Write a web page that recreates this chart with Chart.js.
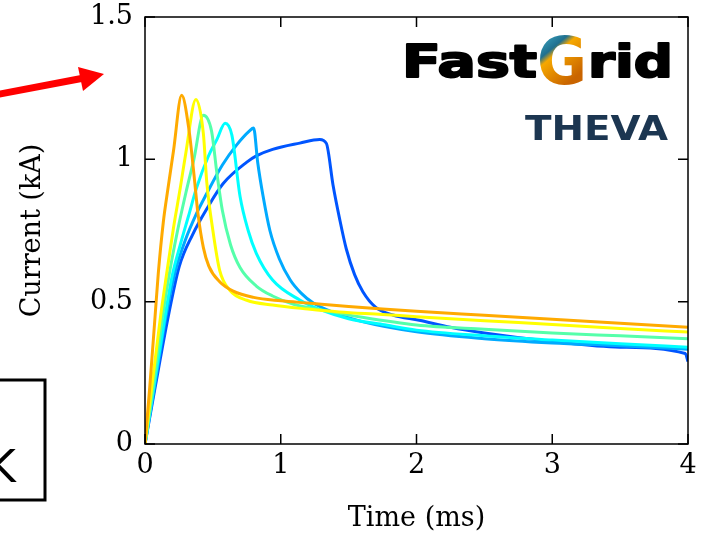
<!DOCTYPE html>
<html>
<head>
<meta charset="utf-8">
<title>Current vs time</title>
<script src="https://cdn.jsdelivr.net/npm/chart.js@4.4.0/dist/chart.umd.min.js"></script>
<style>
  html, body { margin: 0; padding: 0; background: #fff; }
  #wrap { position: relative; width: 702px; height: 539px; }
</style>
</head>
<body>
<div id="wrap"><canvas id="chart" width="702" height="539"></canvas></div>
<script>
// time (ms) / current (kA) for each trace
const tOrange = [0, 0.035, 0.074, 0.098, 0.135, 0.17, 0.21, 0.27, 0.325, 0.36, 0.39, 0.43, 0.47, 0.55, 0.65, 0.8, 1.0, 1.2, 1.5, 1.75, 2.0, 2.5, 3.0, 3.5, 4.0];
const iOrange = [0, 0.2, 0.447, 0.6, 0.78, 0.9, 1.03, 1.225, 1.1, 0.95, 0.81, 0.69, 0.625, 0.57, 0.537, 0.515, 0.503, 0.495, 0.483, 0.474, 0.466, 0.452, 0.438, 0.424, 0.41];

const tYellow = [0, 0.05, 0.115, 0.16, 0.21, 0.26, 0.3, 0.375, 0.43, 0.455, 0.5, 0.55, 0.625, 0.75, 0.94, 1.2, 1.43, 1.75, 2.0, 2.5, 3.0, 3.5, 4.0];
const iYellow = [0, 0.2, 0.45, 0.6, 0.76, 0.9, 1.02, 1.21, 1.09, 0.92, 0.75, 0.61, 0.54, 0.505, 0.488, 0.474, 0.464, 0.455, 0.447, 0.433, 0.42, 0.406, 0.393];

const tGreen = [0, 0.06, 0.13, 0.18, 0.24, 0.3, 0.36, 0.43, 0.49, 0.53, 0.57, 0.63, 0.7, 0.82, 0.94, 1.1, 1.31, 1.6, 2.0, 2.5, 3.0, 3.5, 4.0];
const iGreen = [0, 0.2, 0.45, 0.6, 0.75, 0.88, 1.0, 1.155, 1.1, 0.95, 0.82, 0.7, 0.62, 0.555, 0.52, 0.49, 0.47, 0.445, 0.418, 0.403, 0.39, 0.38, 0.37];

const tCyan = [0, 0.065, 0.145, 0.2, 0.26, 0.32, 0.38, 0.466, 0.53, 0.59, 0.64, 0.7, 0.76, 0.82, 0.94, 1.14, 1.3, 1.5, 1.75, 2.0, 2.5, 3.0, 3.5, 4.0];
const iCyan = [0, 0.2, 0.44, 0.59, 0.7, 0.8, 0.9, 1.01, 1.07, 1.127, 1.085, 0.87, 0.75, 0.67, 0.576, 0.506, 0.47, 0.44, 0.42, 0.4, 0.38, 0.365, 0.352, 0.34];

const tSky = [0, 0.07, 0.154, 0.22, 0.3, 0.37, 0.455, 0.57, 0.674, 0.77, 0.8, 0.83, 0.87, 0.92, 0.99, 1.07, 1.15, 1.24, 1.4, 1.6, 2.0, 2.5, 3.0, 3.5, 4.0];
const iSky = [0, 0.2, 0.447, 0.6, 0.72, 0.8, 0.88, 0.98, 1.05, 1.1, 1.11, 0.99, 0.87, 0.75, 0.65, 0.576, 0.53, 0.495, 0.46, 0.43, 0.394, 0.37, 0.355, 0.345, 0.333];

const tBlue = [0, 0.075, 0.171, 0.252, 0.35, 0.46, 0.576, 0.75, 0.82, 0.94, 1.14, 1.287, 1.336, 1.385, 1.434, 1.483, 1.544, 1.605, 1.7, 1.826, 2.02, 2.25, 2.5, 3.0, 3.5, 3.98, 4.0];
const iBlue = [0, 0.2, 0.447, 0.623, 0.735, 0.83, 0.915, 0.99, 1.012, 1.035, 1.057, 1.07, 1.056, 0.91, 0.79, 0.685, 0.595, 0.535, 0.48, 0.453, 0.435, 0.41, 0.39, 0.36, 0.34, 0.318, 0.29];

const xTickLabels = ['0', '1', '2', '3', '4'];
const yTickLabels = ['0', '0.5', '1', '1.5'];

const toPoints = (ts, is) => ts.map((t, k) => ({ x: t, y: is[k] }));

// first dataset is painted last, so orange ends up on top
const traces = [
  { t: tOrange, i: iOrange, color: '#ffaa00' },
  { t: tYellow, i: iYellow, color: '#ffff00' },
  { t: tGreen, i: iGreen, color: '#55ffaa' },
  { t: tCyan, i: iCyan, color: '#00ffff' },
  { t: tSky, i: iSky, color: '#00aaff' },
  { t: tBlue, i: iBlue, color: '#0055ff' },
];

const serif = "'DejaVu Serif', serif";

function fitText(ctx, str, font, x, base, w, stroke) {
  ctx.font = font;
  const m = ctx.measureText(str).width;
  ctx.save();
  ctx.translate(x, base);
  ctx.scale(w / m, 1);
  ctx.fillText(str, 0, 0);
  if (stroke) {
    ctx.lineWidth = stroke;
    ctx.lineJoin = 'round';
    ctx.strokeStyle = ctx.fillStyle;
    ctx.strokeText(str, 0, 0);
  }
  ctx.restore();
}

const frameAndDecor = {
  id: 'frameAndDecor',
  afterDatasetsDraw(chart) {
    const { ctx, chartArea: a, scales } = chart;
    const x = scales.x, y = scales.y;
    const tl = 10;
    ctx.save();
    ctx.strokeStyle = '#000';
    ctx.lineWidth = 1.5;
    ctx.strokeRect(a.left, a.top, a.right - a.left, a.bottom - a.top);
    ctx.beginPath();
    x.ticks.forEach(t => {
      const px = x.getPixelForValue(t.value);
      ctx.moveTo(px, a.bottom); ctx.lineTo(px, a.bottom - tl);
      ctx.moveTo(px, a.top); ctx.lineTo(px, a.top + tl);
    });
    y.ticks.forEach(t => {
      const py = y.getPixelForValue(t.value);
      ctx.moveTo(a.left, py); ctx.lineTo(a.left + tl, py);
      ctx.moveTo(a.right, py); ctx.lineTo(a.right - tl, py);
    });
    ctx.stroke();
    ctx.restore();
  },
  afterDraw(chart) {
    const ctx = chart.ctx;
    ctx.save();
    ctx.textAlign = 'left';
    ctx.textBaseline = 'alphabetic';

    // logo text
    ctx.fillStyle = '#000';
    fitText(ctx, 'Fast', "bold 45px 'DejaVu Sans'", 402, 77, 135, 2);
    fitText(ctx, 'rid', "bold 45px 'DejaVu Sans'", 588, 77, 85, 2);
    // gradient coords are relative to the G's baseline (fitText translates)
    const g = ctx.createLinearGradient(-10, -50, 30, 2);
    g.addColorStop(0, '#4cc6e0');
    g.addColorStop(0.42, '#20708f');
    g.addColorStop(0.52, '#f6a800');
    g.addColorStop(1, '#c96400');
    ctx.fillStyle = g;
    fitText(ctx, 'G', "bold 66px 'DejaVu Sans'", 537, 84, 50, 0);
    ctx.fillStyle = '#1c3651';
    fitText(ctx, 'THEVA', "bold 34px 'DejaVu Sans'", 525, 140, 143, 0);

    // red arrow
    ctx.strokeStyle = '#ff0000';
    ctx.fillStyle = '#ff0000';
    ctx.lineWidth = 7;
    ctx.beginPath();
    ctx.moveTo(-5, 95);
    ctx.lineTo(84, 78);
    ctx.stroke();
    ctx.beginPath();
    ctx.moveTo(104, 74);
    ctx.lineTo(78, 67);
    ctx.lineTo(83, 91);
    ctx.closePath();
    ctx.fill();

    // cropped box at bottom left
    ctx.strokeStyle = '#000';
    ctx.lineWidth = 3;
    ctx.strokeRect(-10, 380, 55, 120);
    ctx.fillStyle = '#000';
    ctx.font = "44px 'DejaVu Sans'";
    ctx.fillText('K', -13, 482);
    ctx.restore();
  }
};

new Chart(document.getElementById('chart'), {
  type: 'line',
  data: {
    datasets: traces.map(s => ({
      data: toPoints(s.t, s.i),
      borderColor: s.color,
      backgroundColor: s.color,
      borderWidth: 3,
      pointRadius: 0,
      cubicInterpolationMode: 'monotone',
      fill: false,
    })),
  },
  options: {
    responsive: false,
    animation: false,
    layout: { padding: { top: 17, right: 14, bottom: 0, left: 0 } },
    plugins: { legend: { display: false }, tooltip: { enabled: false } },
    scales: {
      x: {
        type: 'linear',
        min: 0,
        max: 4,
        grid: { display: false, drawTicks: false },
        border: { display: false },
        ticks: {
          stepSize: 1,
          padding: 6,
          color: '#000',
          font: { family: serif, size: 27 },
          callback: (v) => xTickLabels[Math.round(v)],
        },
        title: {
          display: true,
          text: 'Time (ms)',
          color: '#000',
          font: { family: serif, size: 27 },
          padding: { top: 0, bottom: 4 },
        },
        afterFit: (s) => { s.height = 95; s.paddingLeft = 0; s.paddingRight = 0; },
      },
      y: {
        type: 'linear',
        min: 0,
        max: 1.5,
        grid: { display: false, drawTicks: false },
        border: { display: false },
        ticks: {
          stepSize: 0.5,
          padding: 12,
          color: '#000',
          font: { family: serif, size: 27 },
          callback: (v) => yTickLabels[Math.round(v * 2)],
        },
        title: {
          display: true,
          text: 'Current (kA)',
          color: '#000',
          font: { family: serif, size: 27 },
          padding: { top: 17, bottom: 0 },
        },
        afterFit: (s) => { s.width = 145; s.paddingTop = 0; s.paddingBottom = 0; },
      },
    },
  },
  plugins: [frameAndDecor],
});
</script>
</body>
</html>
